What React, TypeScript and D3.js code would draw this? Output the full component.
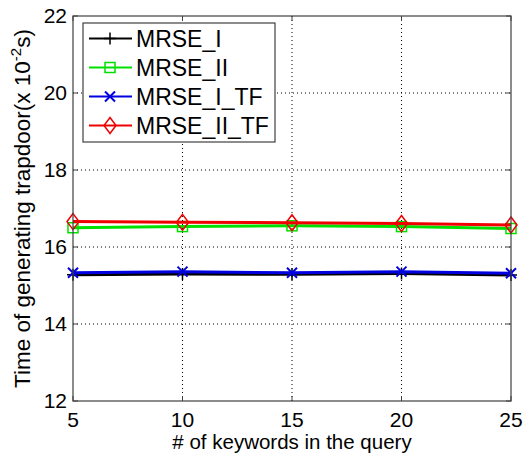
import React from "react";
import * as d3 from "d3";

// Number of keywords in the query
const keywords = [5, 10, 15, 20, 25];

// Trapdoor generation time (x 10^-2 s) for each scheme
const mrseI = [15.28, 15.3, 15.29, 15.31, 15.27];
const mrseII = [16.5, 16.53, 16.55, 16.53, 16.48];
const mrseITF = [15.33, 15.36, 15.33, 15.36, 15.32];
const mrseIITF = [16.66, 16.64, 16.63, 16.61, 16.57];

const xTicks = [5, 10, 15, 20, 25];
const yTicks = [12, 14, 16, 18, 20, 22];

const seriesNames = ["MRSE_I", "MRSE_II", "MRSE_I_TF", "MRSE_II_TF"];
const seriesColors = ["#000000", "#00e000", "#0000e0", "#f00000"];
const seriesMarkers = ["plus", "square", "cross", "diamond"];
const seriesValues = [mrseI, mrseII, mrseITF, mrseIITF];

const W = 525;
const H = 459;
const margin = { left: 73, right: 14, top: 16, bottom: 58 };
const FONT = "Liberation Sans, Arial, sans-serif";

function Marker({ kind, x, y, color }: { kind: string; x: number; y: number; color: string }) {
  const s = 6;
  if (kind === "plus") {
    return (
      <path d={`M${x - s},${y}H${x + s}M${x},${y - s}V${y + s}`} stroke={color} strokeWidth={1.5} fill="none" />
    );
  }
  if (kind === "square") {
    return <rect x={x - 5} y={y - 5} width={10} height={10} stroke={color} strokeWidth={1.5} fill="none" />;
  }
  if (kind === "cross") {
    const c = 5;
    return (
      <path
        d={`M${x - c},${y - c}L${x + c},${y + c}M${x - c},${y + c}L${x + c},${y - c}`}
        stroke={color}
        strokeWidth={2}
        fill="none"
      />
    );
  }
  return (
    <path d={`M${x},${y - 8}L${x + 6},${y}L${x},${y + 8}L${x - 6},${y}Z`} stroke={color} strokeWidth={1.5} fill="none" />
  );
}

export default function App() {
  const x = d3.scaleLinear().domain([5, 25]).range([margin.left, W - margin.right]);
  const y = d3.scaleLinear().domain([12, 22]).range([H - margin.bottom, margin.top]);
  const x0 = x.range()[0];
  const x1 = x.range()[1];
  const yb = y.range()[0];
  const yt = y.range()[1];

  const line = d3
    .line<number>()
    .x((_, i) => x(keywords[i]))
    .y((d) => y(d));

  const axisColor = "#404040";
  const tickLen = 5;

  const legendX = 83;
  const legendY = 23;
  const legendW = 192;
  const legendH = 119;
  const rowGap = 29;

  return (
    <svg width={W} height={H} style={{ position: "absolute", left: 0, top: 0, background: "#fff" }}>
      <rect x={0} y={0} width={W} height={H} fill="#fff" />
      {/* dotted grid */}
      {xTicks
        .filter((t) => t !== 5 && t !== 25)
        .map((t) => (
          <line key={"gx" + t} x1={x(t)} x2={x(t)} y1={yb} y2={yt} stroke="#000" strokeWidth={1} strokeDasharray="1,3" />
        ))}
      {yTicks
        .filter((t) => t !== 12 && t !== 22)
        .map((t) => (
          <line key={"gy" + t} x1={x0} x2={x1} y1={y(t)} y2={y(t)} stroke="#000" strokeWidth={1} strokeDasharray="1,3" />
        ))}

      {/* series */}
      {seriesValues.map((vals, si) => (
        <g key={seriesNames[si]}>
          <path d={line(vals) || ""} fill="none" stroke={seriesColors[si]} strokeWidth={3} />
          {vals.map((v, i) => (
            <Marker key={i} kind={seriesMarkers[si]} x={x(keywords[i])} y={y(v)} color={seriesColors[si]} />
          ))}
        </g>
      ))}

      {/* axes box */}
      <rect x={x0} y={yt} width={x1 - x0} height={yb - yt} fill="none" stroke={axisColor} strokeWidth={1.2} />
      {xTicks.map((t) => (
        <g key={"tx" + t}>
          <line x1={x(t)} x2={x(t)} y1={yb} y2={yb - tickLen} stroke={axisColor} />
          <line x1={x(t)} x2={x(t)} y1={yt} y2={yt + tickLen} stroke={axisColor} />
          <text x={x(t)} y={yb + 26} textAnchor="middle" fontFamily={FONT} fontSize={21} fill="#000">
            {t}
          </text>
        </g>
      ))}
      {yTicks.map((t) => (
        <g key={"ty" + t}>
          <line x1={x0} x2={x0 + tickLen} y1={y(t)} y2={y(t)} stroke={axisColor} />
          <line x1={x1} x2={x1 - tickLen} y1={y(t)} y2={y(t)} stroke={axisColor} />
          <text x={x0 - 6} y={y(t) + 7} textAnchor="end" fontFamily={FONT} fontSize={21} fill="#000">
            {t}
          </text>
        </g>
      ))}

      {/* axis labels */}
      <text x={(x0 + x1) / 2} y={H - 10} textAnchor="middle" fontFamily={FONT} fontSize={20.5} fill="#000">
        # of keywords in the query
      </text>
      <text
        transform={`translate(30,${(yb + yt) / 2}) rotate(-90)`}
        textAnchor="middle"
        fontFamily={FONT}
        fontSize={22.5}
        fill="#000"
      >
        Time of generating trapdoor(x 10
        <tspan fontSize={15} dy={-9}>
          -2
        </tspan>
        <tspan dy={9}>s)</tspan>
      </text>

      {/* legend */}
      <rect x={legendX} y={legendY} width={legendW} height={legendH} fill="#fff" stroke={axisColor} strokeWidth={1.2} />
      {seriesNames.map((name, i) => {
        const ry = legendY + 15.5 + i * rowGap;
        return (
          <g key={"lg" + name}>
            <line x1={legendX + 6} x2={legendX + 49} y1={ry} y2={ry} stroke={seriesColors[i]} strokeWidth={2} />
            <Marker kind={seriesMarkers[i]} x={legendX + 27} y={ry} color={seriesColors[i]} />
            <text x={legendX + 53} y={ry + 8} fontFamily={FONT} fontSize={23} fill="#000">
              {name}
            </text>
          </g>
        );
      })}
    </svg>
  );
}
